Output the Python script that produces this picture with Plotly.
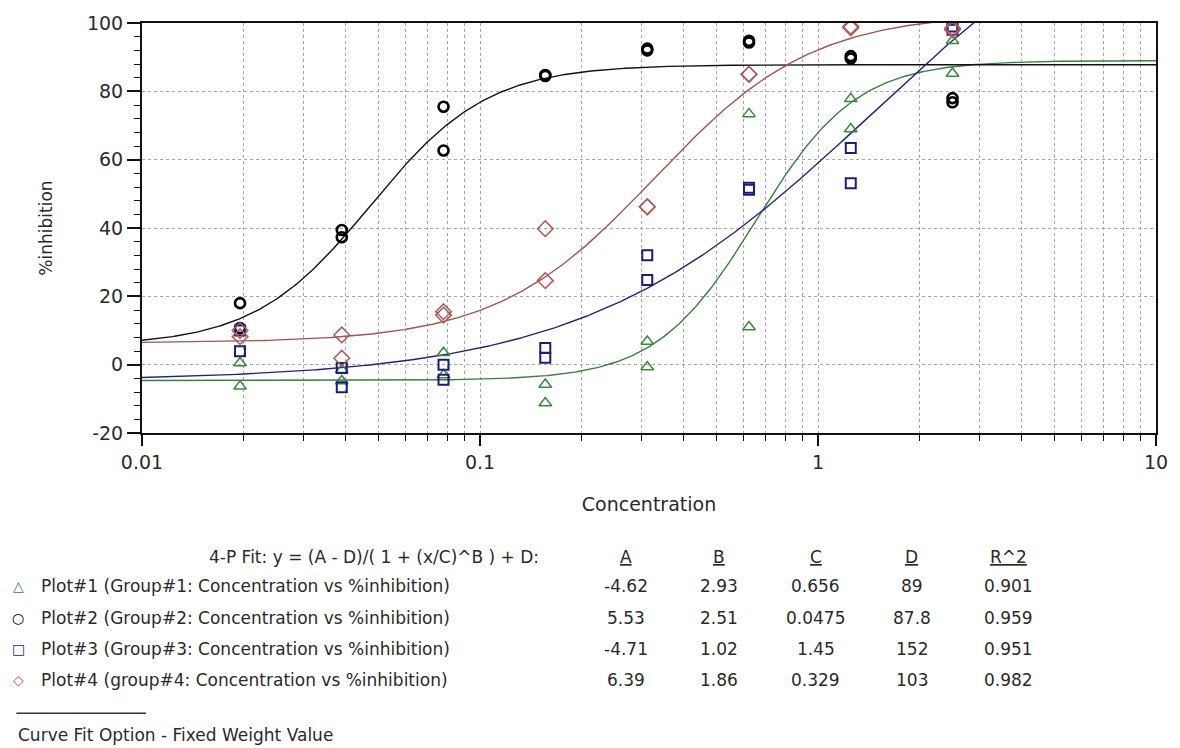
import numpy as np
import plotly.graph_objects as go

# ---------------- data ----------------
concentration = [0.0195, 0.039, 0.078, 0.156, 0.3125, 0.625, 1.25, 2.5]

group1_rep1 = [0.5, -1.5, 3.5, -5.8, 6.8, 73.4, 77.8, 94.8]
group1_rep2 = [-6.3, -4.8, -3.0, -11.2, -0.7, 11.0, 69.0, 85.2]

group2_rep1 = [18.0, 39.4, 75.5, 84.5, 92.5, 94.8, 90.3, 78.0]
group2_rep2 = [10.7, 37.3, 62.7, 84.8, 92.0, 94.3, 89.6, 76.8]

group3_rep1 = [3.9, -1.0, 0.0, 4.9, 32.0, 51.8, 63.4, 98.0]
group3_rep2 = [10.0, -6.6, -4.4, 2.0, 24.8, 51.2, 53.1, 99.0]

group4_rep1 = [8.2, 8.7, 15.5, 39.8, 46.2, 85.0, 98.6, 98.0]
group4_rep2 = [10.0, 1.9, 14.5, 24.6, 46.2, 85.0, 99.0, 98.5]

plot_names = ["Plot#1 (Group#1: Concentration vs %inhibition)",
              "Plot#2 (Group#2: Concentration vs %inhibition)",
              "Plot#3 (Group#3: Concentration vs %inhibition)",
              "Plot#4 (group#4: Concentration vs %inhibition)"]

fit_A = [-4.62, 5.53, -4.71, 6.39]
fit_B = [2.93, 2.51, 1.02, 1.86]
fit_C = [0.656, 0.0475, 1.45, 0.329]
fit_D = [89, 87.8, 152, 103]
fit_R2 = [0.901, 0.959, 0.951, 0.982]

fit_A_txt = ["-4.62", "5.53", "-4.71", "6.39"]
fit_B_txt = ["2.93", "2.51", "1.02", "1.86"]
fit_C_txt = ["0.656", "0.0475", "1.45", "0.329"]
fit_D_txt = ["89", "87.8", "152", "103"]
fit_R2_txt = ["0.901", "0.959", "0.951", "0.982"]

x_tick_vals = [0.01, 0.1, 1, 10]
x_tick_text = ["0.01", "0.1", "1", "10"]
y_tick_vals = [-20, 0, 20, 40, 60, 80, 100]
y_tick_text = ["-20", "0", "20", "40", "60", "80", "100"]

# ---------------- styles ----------------
FONT = "DejaVu Sans"
TXT = "#2a2a2a"
curve_colors = ["#3d7d3d", "#111111", "#23237e", "#a35252"]
marker_colors = ["#3a8a3a", "#000000", "#1c1c80", "#b05858"]
symbols = ["triangle-up-open", "circle-open", "square-open", "diamond-open"]
msizes = [11, 10, 10, 12]
mwidths = [1.5, 2.6, 2.0, 1.5]
legend_glyphs = ["\u25b3", "\u25cb", "\u25a1", "\u25c7"]

reps = [(group1_rep1, group1_rep2), (group2_rep1, group2_rep2),
        (group3_rep1, group3_rep2), (group4_rep1, group4_rep2)]

fig = go.Figure()

# fitted 4-P curves from the table parameters
xs = np.logspace(-2, 1, 500)
for i in range(4):
    ys = (fit_A[i] - fit_D[i]) / (1 + (xs / fit_C[i]) ** fit_B[i]) + fit_D[i]
    fig.add_trace(go.Scatter(x=xs, y=ys, mode="lines",
                             line=dict(color=curve_colors[i], width=1.4),
                             showlegend=False, hoverinfo="skip"))

for i in range(4):
    r1, r2 = reps[i]
    fig.add_trace(go.Scatter(
        x=concentration + concentration, y=r1 + r2, mode="markers",
        marker=dict(symbol=symbols[i], size=msizes[i], color=marker_colors[i],
                    line=dict(color=marker_colors[i], width=mwidths[i])),
        name=plot_names[i], showlegend=False))

# ---------------- layout geometry ----------------
W, H = 1180, 748
L, R, T, B = 142, 1167, 22, 433


def px(x):
    return (x - L) / (R - L)


def py(y):
    return (B - y) / (B - T)


minor_x = [m * 10.0 ** e for e in (-2, -1, 0) for m in range(2, 10)]

fig.update_xaxes(
    type="log", range=[-2, 1],
    tickmode="array", tickvals=x_tick_vals, ticktext=x_tick_text,
    ticks="outside", ticklen=11, tickwidth=1.5, tickcolor="#111",
    showline=True, linecolor="#111", linewidth=2, mirror=True,
    showgrid=True, gridcolor="#a8a8a8", griddash="dot", gridwidth=1,
    minor=dict(tickmode="array", tickvals=minor_x, ticks="outside", ticklen=6,
               tickwidth=1.2, tickcolor="#111", showgrid=True,
               gridcolor="#a8a8a8", griddash="dot", gridwidth=1),
    tickfont=dict(family=FONT, size=19, color=TXT),
    title=dict(text="Concentration", font=dict(family=FONT, size=19, color=TXT),
               standoff=26),
    zeroline=False,
)
fig.update_yaxes(
    range=[-20, 100], tickmode="array", tickvals=y_tick_vals, ticktext=y_tick_text,
    ticks="outside", ticklen=13, tickwidth=1.5, tickcolor="#111",
    showline=True, linecolor="#111", linewidth=2, mirror=True,
    showgrid=True, gridcolor="#a8a8a8", griddash="dot", gridwidth=1,
    minor=dict(tickmode="linear", tick0=-20, dtick=4, ticks="outside", ticklen=6,
               tickwidth=1.2, tickcolor="#111", showgrid=False),
    tickfont=dict(family=FONT, size=19, color=TXT),
    title=dict(text="%inhibition", font=dict(family=FONT, size=17, color=TXT),
               standoff=30),
    zeroline=False,
)

ann = []
font_t = dict(family=FONT, size=17, color=TXT)

# fit equation header
ann.append(dict(x=px(545), y=py(557), xref="paper", yref="paper",
                text="4-P Fit: y = (A - D)/( 1 + (x/C)^B ) + D:",
                showarrow=False, xanchor="right", yanchor="middle", font=font_t))

col_x = [631, 725, 823, 920, 1018]
col_hdr = ["A", "B", "C", "D", "R^2"]
for cx, h in zip(col_x, col_hdr):
    ann.append(dict(x=px(cx), y=py(557), xref="paper", yref="paper", text=h,
                    showarrow=False, xanchor="center", yanchor="middle",
                    font=dict(family=FONT, size=17, color=TXT, lineposition="under")))

row_y = [586, 618, 650, 681]
cols = [fit_A_txt, fit_B_txt, fit_C_txt, fit_D_txt, fit_R2_txt]
for i in range(4):
    ann.append(dict(x=px(17), y=py(row_y[i]), xref="paper", yref="paper",
                    text=legend_glyphs[i], showarrow=False, xanchor="center",
                    yanchor="middle",
                    font=dict(family=FONT, size=14, color=marker_colors[i])))
    ann.append(dict(x=px(38), y=py(row_y[i]), xref="paper", yref="paper",
                    text=plot_names[i], showarrow=False, xanchor="left",
                    yanchor="middle", font=font_t))
    for cx, col in zip(col_x, cols):
        ann.append(dict(x=px(cx), y=py(row_y[i]), xref="paper", yref="paper",
                        text=col[i], showarrow=False, xanchor="center",
                        yanchor="middle", font=font_t))

ann.append(dict(x=px(15), y=py(736), xref="paper", yref="paper",
                text="Curve Fit Option - Fixed Weight Value", showarrow=False,
                xanchor="left", yanchor="middle", font=font_t))

fig.update_layout(
    width=W, height=H,
    margin=dict(l=L, r=W - R, t=T, b=H - B),
    plot_bgcolor="white", paper_bgcolor="white",
    annotations=ann,
    shapes=[dict(type="line", xref="paper", yref="paper",
                 x0=px(15), x1=px(146), y0=py(714), y1=py(714),
                 line=dict(color="#333", width=1.5))],
    showlegend=False,
)

fig.write_html("out.html", config={"displayModeBar": False},
               post_script="document.body.style.margin='0px';")
